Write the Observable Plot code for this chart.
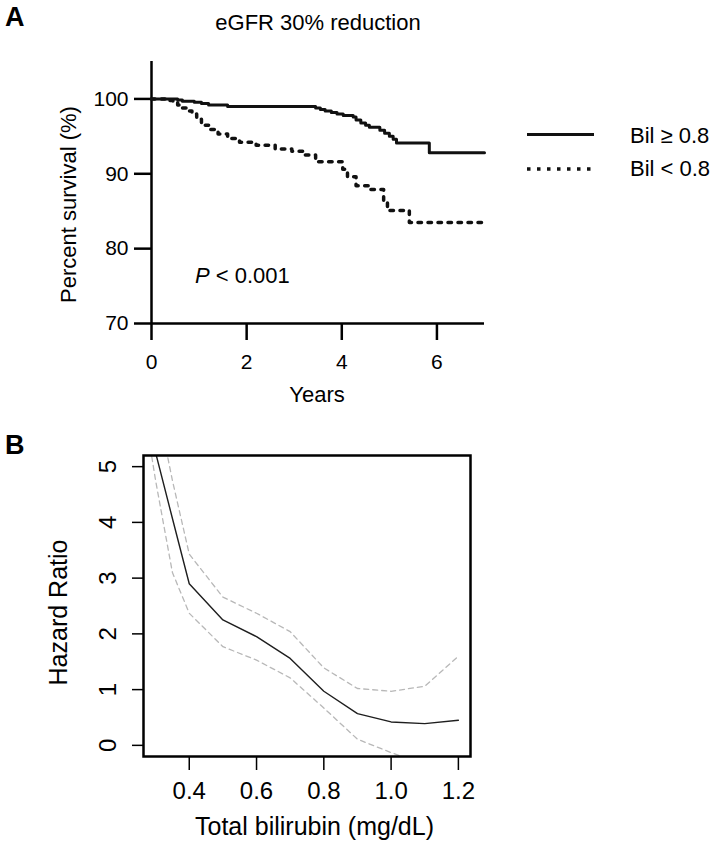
<!DOCTYPE html>
<html>
<head>
<meta charset="utf-8">
<script src="https://cdn.jsdelivr.net/npm/d3@7"></script>
<script src="https://cdn.jsdelivr.net/npm/@observablehq/plot@0.6"></script>
<style>
  html, body { margin: 0; padding: 0; background: #fff; }
  #wrap { position: relative; width: 714px; height: 846px; font-family: "Liberation Sans", Arial, Helvetica, sans-serif; color: #000; overflow: hidden; }
  .abs { position: absolute; line-height: 1; white-space: pre; }
</style>
</head>
<body>
<div id="wrap">
  <div id="plotA" class="abs" style="left:0;top:0"></div>
  <div id="plotB" class="abs" style="left:0;top:420px"></div>
  <div class="abs" style="left:5px;top:4px;font-size:27px;font-weight:bold">A</div>
  <div class="abs" style="left:118px;top:12px;width:400px;text-align:center;font-size:22px">eGFR 30% reduction</div>
  <div class="abs" style="left:195px;top:265px;font-size:22px"><i>P</i> &lt; 0.001</div>
  <svg class="abs" style="left:520px;top:120px" width="80" height="60">
    <line x1="7" x2="74" y1="14.5" y2="14.5" stroke="#111" stroke-width="3"></line>
    <line x1="7" x2="74" y1="49" y2="49" stroke="#111" stroke-width="3.5" stroke-dasharray="3.5,6.5"></line>
  </svg>
  <div class="abs" style="left:630px;top:124.5px;font-size:22px">Bil ≥ 0.8</div>
  <div class="abs" style="left:630px;top:158px;font-size:22px">Bil &lt; 0.8</div>
  <div class="abs" style="left:5px;top:432px;font-size:27px;font-weight:bold">B</div>
</div>
<script>
// ---- Panel A: Kaplan-Meier (eGFR 30% reduction) ----
const highTime = [0, 0.55, 0.65, 0.9, 1.05, 1.2, 1.6, 3.45, 3.55, 3.65, 3.78, 3.9, 4.03, 4.24, 4.3, 4.4, 4.5, 4.58, 4.8, 4.9, 5.0, 5.08, 5.15, 5.84, 7];
const highSurv = [100, 99.85, 99.7, 99.55, 99.4, 99.2, 99.0, 98.8, 98.6, 98.4, 98.2, 98.0, 97.8, 97.6, 97.2, 96.8, 96.5, 96.2, 95.8, 95.4, 95.0, 94.6, 94.1, 92.8, 92.8];
const lowTime = [0, 0.3, 0.45, 0.55, 0.65, 0.75, 0.85, 0.95, 1.05, 1.2, 1.4, 1.6, 1.85, 2.2, 2.6, 2.95, 3.2, 3.45, 4.02, 4.12, 4.3, 4.6, 4.88, 4.96, 5.42, 7];
const lowSurv = [100, 99.8, 99.5, 99.2, 98.8, 98.4, 98.0, 97.3, 96.5, 95.9, 95.3, 94.7, 94.2, 93.8, 93.3, 93.0, 92.5, 91.6, 90.6, 89.6, 88.4, 87.9, 86.3, 85.1, 83.5, 83.5];
const yearTicks = [0, 2, 4, 6];
const survTicks = [70, 80, 90, 100];

// ---- Panel B: spline hazard ratio ----
const bili = [0.28, 0.3, 0.35, 0.4, 0.5, 0.6, 0.7, 0.8, 0.9, 1.0, 1.1, 1.2];
const hr = [NaN, 5.25, 4.07, 2.9, 2.25, 1.95, 1.56, 0.97, 0.57, 0.42, 0.39, 0.45];
const upper = [6.9, 6.25, 4.75, 3.43, 2.66, 2.37, 2.04, 1.39, 1.02, 0.97, 1.06, 1.6];
const lower = [5.5, 4.75, 3.1, 2.37, 1.77, 1.53, 1.21, 0.67, 0.11, -0.13, -0.35, -0.6];
const biliTicks = [0.4, 0.6, 0.8, 1.0, 1.2];
const hrTicks = [0, 1, 2, 3, 4, 5];

const font = "Liberation Sans, Arial, Helvetica, sans-serif";

const highData = highTime.map((t, i) => ({t, s: highSurv[i]}));
const lowData = lowTime.map((t, i) => ({t, s: lowSurv[i]}));

const plotA = Plot.plot({
  width: 714,
  height: 420,
  marginLeft: 151,
  marginRight: 230,
  marginTop: 61,
  marginBottom: 97,
  style: {fontFamily: font, background: "white", color: "#000", overflow: "visible"},
  x: {domain: [0, 7]},
  y: {domain: [70, 105]},
  marks: [
    Plot.axisY({ticks: survTicks, tickFormat: d => String(d), tickSize: 17, tickPadding: 6, strokeWidth: 2.5, fontSize: 21, label: null}),
    Plot.axisX({ticks: yearTicks, tickFormat: d => String(d), tickSize: 17, tickPadding: 14, strokeWidth: 2.5, fontSize: 21, label: null}),
    Plot.ruleX([0], {stroke: "#000", strokeWidth: 2.5}),
    Plot.ruleY([70], {stroke: "#000", strokeWidth: 2.5}),
    Plot.line(lowData, {x: "t", y: "s", curve: "step-after", stroke: "#111", strokeWidth: 3.5, strokeDasharray: "3.5,6.5"}),
    Plot.line(highData, {x: "t", y: "s", curve: "step-after", stroke: "#111", strokeWidth: 3}),
    Plot.text(["Percent survival (%)"], {text: d => d, frameAnchor: "left", textAnchor: "middle", lineAnchor: "middle", rotate: -90, dx: -83, dy: 12, fontSize: 22}),
    Plot.text(["Years"], {text: d => d, frameAnchor: "bottom", dx: -1, dy: 78, fontSize: 22})
  ]
});
document.getElementById("plotA").appendChild(plotA);

const bData = bili.map((x, i) => ({x, hr: hr[i], lo: lower[i], hi: upper[i]}));

const plotB = Plot.plot({
  width: 714,
  height: 426,
  marginLeft: 143,
  marginRight: 244,
  marginTop: 35,
  marginBottom: 90,
  style: {fontFamily: font, background: "white", color: "#000", overflow: "visible"},
  x: {domain: [0.264, 1.236]},
  y: {domain: [-0.2, 5.2]},
  marks: [
    Plot.line(bData, {x: "x", y: "hi", stroke: "#b8b8b8", strokeWidth: 1.3, strokeDasharray: "5,4", clip: true}),
    Plot.line(bData, {x: "x", y: "lo", stroke: "#b8b8b8", strokeWidth: 1.3, strokeDasharray: "5,4", clip: true}),
    Plot.line(bData, {x: "x", y: "hr", stroke: "#1e1e1e", strokeWidth: 1.4, clip: true}),
    Plot.frame({stroke: "#000", strokeWidth: 2.5}),
    Plot.axisY({ticks: hrTicks, tickSize: 11, tickFormat: () => "", strokeWidth: 1.5, label: null}),
    Plot.text(hrTicks, {y: d => d, text: d => String(d), frameAnchor: "left", textAnchor: "middle", lineAnchor: "middle", rotate: -90, dx: -35, fontSize: 24}),
    Plot.axisX({ticks: biliTicks, tickFormat: d3.format(".1f"), tickSize: 14, tickPadding: 11, strokeWidth: 1.5, fontSize: 24, label: null}),
    Plot.text(["Hazard Ratio"], {text: d => d, frameAnchor: "left", textAnchor: "middle", lineAnchor: "middle", rotate: -90, dx: -85, dy: 6.5, fontSize: 25}),
    Plot.text(["Total bilirubin (mg/dL)"], {text: d => d, frameAnchor: "bottom", dx: 7.5, dy: 78, fontSize: 25})
  ]
});
document.getElementById("plotB").appendChild(plotB);
</script>
</body>
</html>
